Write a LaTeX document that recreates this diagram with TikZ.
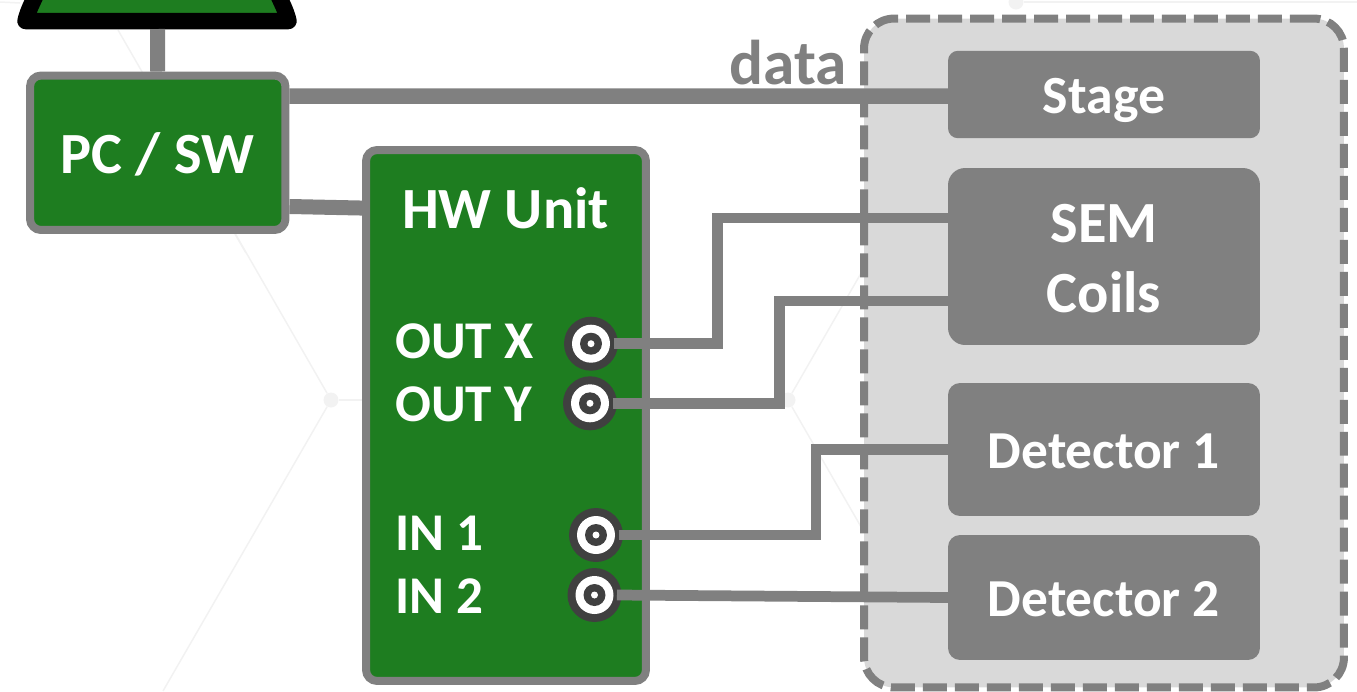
\documentclass[tikz,border=0pt]{standalone}
\usepackage{fontspec}
\setmainfont{Carlito}
\usepackage{xcolor}
\usetikzlibrary{positioning,shapes}
\definecolor{boxgreen}{HTML}{1E7D20}
\definecolor{wiregray}{HTML}{808080}
\definecolor{areagray}{HTML}{D9D9D9}
\definecolor{jackgray}{HTML}{404040}
\definecolor{hexgray}{HTML}{F2F2F2}
\newcommand{\pxfont}[1]{\fontsize{#1}{#1}\selectfont\bfseries}
\tikzset{
  hwbox/.style={rectangle, draw=wiregray, fill=boxgreen, line width=0.16cm, rounded corners=0.22cm, inner sep=0pt},
  partbox/.style={rectangle, fill=wiregray, text=white, inner sep=0pt, outer sep=0pt, minimum width=6.24cm, rounded corners=#1},
  partbox/.default=0.2cm,
  wire/.style={draw=wiregray, line width=0.215cm},
  bus/.style={draw=wiregray, line width=0.31cm},
  jack/.style={circle, fill=jackgray, inner sep=0pt, outer sep=-0.09cm, minimum size=1.08cm,
    path picture={
      \fill[white] (path picture bounding box.center) circle (0.38cm);
      \fill[jackgray] (path picture bounding box.center) circle (0.22cm);
      \fill[white] (path picture bounding box.center) circle (0.07cm);
    }},
  whitetext/.style={text=white, inner sep=0pt},
  hexline/.style={draw=hexgray, line width=0.03cm},
  hexdot/.style={circle, fill=hexgray, inner sep=0pt, minimum size=0.3cm}
}
\begin{document}
\begin{tikzpicture}[x=0.02cm,y=-0.02cm]
        \useasboundingbox (0,0) rectangle (1357,691);
        \clip (0,0) rectangle (1357,691);

        % Faint hexagon lines behind everything
        \node[hexdot] (hexa) at (331,400) {};
        \node[hexdot] (hexb) at (788,400) {};
        \node[hexdot] (hexc) at (1016,2) {};
        \coordinate (hexa1) at (118,30);
        \coordinate (hexa2) at (163,691);
        \coordinate (hexa3) at (366,400);
        \coordinate (hexb1) at (864,268);
        \coordinate (hexb2) at (864,532);
        \coordinate (hexc1) at (1357,2);
        \coordinate (hexd1) at (0,2);
        \coordinate (hexd2) at (20,3);
        \foreach \from/\to in {hexa/hexa1, hexa/hexa2, hexa/hexa3, hexb/hexb1, hexb/hexb2, hexc/hexc1, hexd1/hexd2} {
          \draw[hexline] (\from) -- (\to);
        }
        \coordinate (pcgap) at (235,234);
        \coordinate (pcgapb) at (246,253);
        \draw[hexline] (pcgap) -- (pcgapb);

        % Sample area
        \node[rectangle, draw=wiregray, fill=areagray, line width=0.16cm, rounded corners=0.6cm, dash pattern=on 0.48cm off 0.16cm, minimum width=9.6cm, minimum height=13.38cm] (area) at (1104,353) {};

        % Monitor, cut by the top edge
        \draw[draw=black, fill=boxgreen, line width=0.33cm, line join=round] (25.5,21) .. controls (28,10) and (33,2) .. (38,-10) -- (276,-10) .. controls (281,2) and (286,10) .. (288.5,21) -- cycle;
        \coordinate (screen) at (157.5,29);

        % Green units
        \node[hwbox, minimum width=5.11cm, minimum height=3.09cm] (pc) at (157.75,152.75) {};
        \node[hwbox, minimum width=5.6cm, minimum height=10.62cm] (hw) at (506,415.5) {};

        % Parts in the sample area
        \foreach \name/\y/\h/\r in {stage/94.5/1.75/0.2cm, sem/256.5/3.54/0.34cm, deta/449.5/2.66/0.24cm, detb/597.5/2.5/0.24cm} {
          \node[partbox=\r, minimum height=\h cm] (\name) at (1104,\y) {};
        }

        % Jacks
        \foreach \name/\x/\y in {outx/591/343.7, outy/590/403.3, ina/596/535, inb/594.5/595} {
          \node[jack] (\name) at (\x,\y) {};
        }

        % Connections
        \draw[wire, line width=0.3cm] (screen) -- (pc.north);
        \draw[bus] ([yshift=1.135cm]pc.east) -- ([yshift=-0.03cm]stage.west);
        \draw[wire, line width=0.3cm] ([yshift=-1.075cm]pc.east) -- ([yshift=4.15cm]hw.west);
        \draw[wire] (outx.east) -- (717.7,343.7) |- ([yshift=0.77cm]sem.west);
        \draw[wire] (outy.east) -- (779.5,403.3) |- ([yshift=-0.89cm]sem.west);
        \draw[wire] (ina.east) -- (816,535) |- (deta.west);
        \draw[wire] (inb.east) -- (detb.west);

        % Labels
        \node[whitetext, anchor=base, font=\pxfont{33.2pt}] (pclabel) at (157.5,173) {PC / SW};
        \node[whitetext, anchor=base, font=\pxfont{33.2pt}] (hwlabel) at (505.5,228) {HW Unit};
        \foreach \name/\y/\txt in {outxlabel/358/OUT X, outylabel/421/OUT Y, inalabel/550/IN 1, inblabel/613/IN 2} {
          \node[whitetext, anchor=base west, font=\pxfont{30.2pt}] (\name) at (395,\y) {\txt};
        }
        \foreach \name/\y/\txt/\s in {stagelabel/113/Stage/30.6pt, semlabel/242/SEM/33.2pt, coilslabel/312.5/Coils/33.2pt, detalabel/468/Detector 1/30.4pt, detblabel/616/Detector 2/30.4pt} {
          \node[whitetext, anchor=base, font=\pxfont{\s}] (\name) at (1104,\y) {\txt};
        }
        \node[text=wiregray, inner sep=0pt, anchor=base east, font=\pxfont{36pt}] (datalabel) at (847,84) {data};
    \end{tikzpicture}
\end{document}
